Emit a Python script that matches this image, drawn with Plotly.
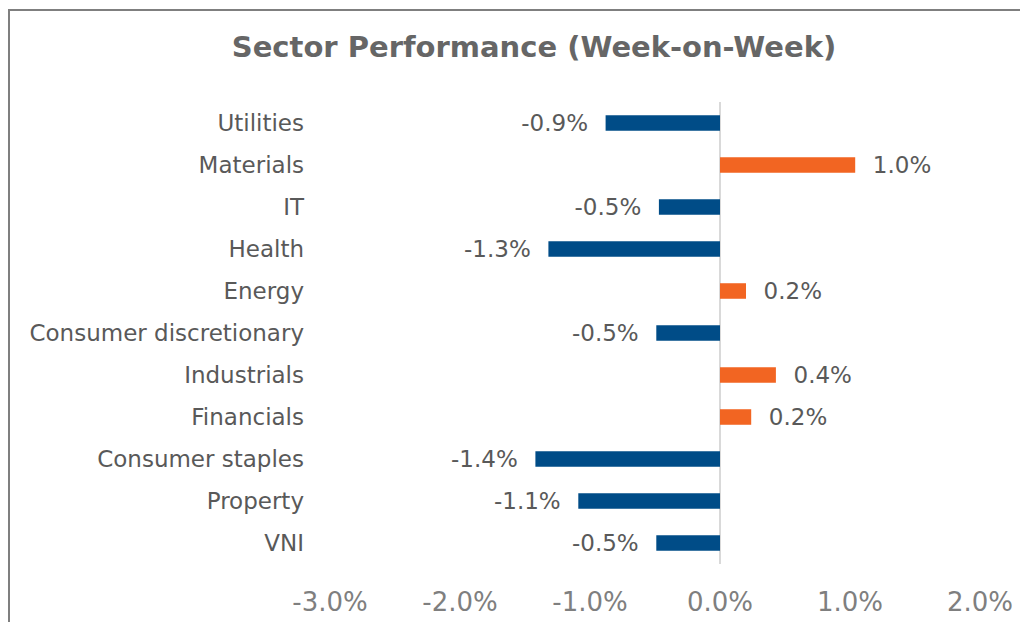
import plotly.graph_objects as go

categories = ["Utilities", "Materials", "IT", "Health", "Energy",
              "Consumer discretionary", "Industrials", "Financials",
              "Consumer staples", "Property", "VNI"]
values_pct = [-0.88, 1.04, -0.47, -1.32, 0.20, -0.49, 0.43, 0.24, -1.42, -1.09, -0.49]
tick_vals_pct = [-3.0, -2.0, -1.0, 0.0, 1.0, 2.0]
tick_text = ["-3.0%", "-2.0%", "-1.0%", "0.0%", "1.0%", "2.0%"]

colors = ["#F26522" if v >= 0 else "#004C87" for v in values_pct]
NB = "\u00a0\u00a0"
labels = [(NB + f"{v:.1f}%") if v >= 0 else (f"{v:.1f}%" + NB) for v in values_pct]

FONT = "DejaVu Sans"

fig = go.Figure(go.Bar(
    y=categories, x=values_pct, orientation="h",
    marker=dict(color=colors, line=dict(width=0)),
    text=labels, textposition="outside", constraintext="none",
    textfont=dict(family=FONT, size=23, color="#595959"),
    cliponaxis=False, hoverinfo="skip",
))

# plot area: x 322..972, y 94..556 in figure px (page adds 8px body margin)
fig.update_layout(
    width=1028, height=622,
    paper_bgcolor="white", plot_bgcolor="white",
    margin=dict(l=322, r=56, t=94, b=66, autoexpand=False),
    bargap=0.63,
    showlegend=False,
    title=dict(text="<b>Sector Performance (Week-on-Week)</b>", x=526 / 1028, xref="container",
               y=1 - 39 / 622, yref="container", xanchor="center", yanchor="middle",
               font=dict(family=FONT, size=29, color="#666666")),
    xaxis=dict(range=[-3, 2], tickvals=tick_vals_pct, ticktext=tick_text, tickangle=0,
               showgrid=False, zeroline=True, zerolinecolor="#D9D9D9", zerolinewidth=2,
               showline=False, ticks="", ticklabelstandoff=20, automargin=False,
               tickfont=dict(family=FONT, size=26, color="#7F7F7F")),
    yaxis=dict(categoryorder="array", categoryarray=categories[::-1],
               showgrid=False, showline=False, ticks="", ticklabelstandoff=25,
               automargin=False,
               tickfont=dict(family=FONT, size=23, color="#595959")),
    shapes=[dict(type="rect", xref="paper", yref="paper",
                 x0=(1 - 322) / 650, x1=1.2, y0=-0.3, y1=(556 - 2) / 462,
                 line=dict(color="#7F7F7F", width=2), fillcolor="rgba(0,0,0,0)", layer="below")],
)

fig.write_html("out.html")
